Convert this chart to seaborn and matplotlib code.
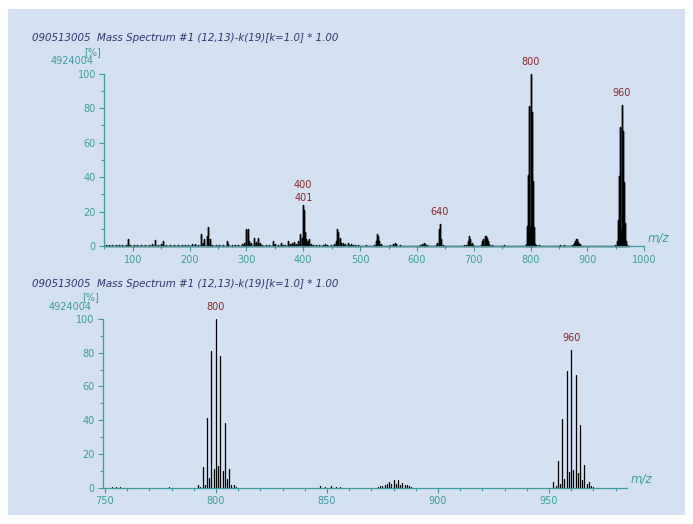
import pandas as pd
import matplotlib
matplotlib.use("Agg")
import matplotlib.pyplot as plt
import seaborn as sns
from matplotlib.patches import Rectangle
from matplotlib.ticker import MultipleLocator

# 1. Data (m/z, relative intensity in %)
title = "090513005  Mass Spectrum #1 (12,13)-k(19)[k=1.0] * 1.00"
base_peak = "4924004"

# isotope cluster around 800
c800_mz = [792, 793, 794, 795, 796, 797, 798, 799, 800, 801, 802, 803, 804, 805, 806, 807, 808, 809]
c800_pct = [1.5, 0.5, 12, 1.5, 41, 5.5, 81, 11, 100, 13, 78, 10, 38, 5, 11, 1.5, 1.5, 0.5]

# small cluster around 880
c880_mz = [873, 874, 875, 876, 877, 878, 879, 880, 881, 882, 883, 884, 885, 886, 887, 888]
c880_pct = [0.5, 0.8, 1.0, 1.6, 2.0, 3.2, 2.0, 4.5, 1.8, 4.4, 1.4, 2.6, 1.2, 1.5, 0.8, 0.4]

# isotope cluster around 960
c960_mz = [952, 953, 954, 955, 956, 957, 958, 959, 960, 961, 962, 963, 964, 965, 966, 967, 968, 969, 970]
c960_pct = [3.3, 0.8, 15.5, 2, 40.6, 5.3, 69, 9.2, 81.8, 10.6, 66.7, 8.6, 37, 4.7, 13.5, 2, 3, 1, 0.5]

# rest of the full scan
low_mz = [53, 58, 64, 70, 76, 82, 88, 92, 95, 102, 108, 115, 122, 128, 134, 140, 144, 150, 153,
          158, 166, 172, 180, 186, 192, 198, 204, 210, 214, 220, 223, 226, 230, 233, 236, 240,
          246, 252, 258, 265, 268, 274, 280, 286, 292]
low_pct = [0.6, 0.8, 0.5, 1.0, 0.7, 0.9, 0.6, 4.0, 1.0, 0.5, 0.8, 0.6, 0.5, 0.7, 1.5, 3.5, 1.0, 1.2, 3.0,
           0.8, 1.0, 0.5, 0.6, 0.9, 0.5, 0.7, 1.2, 1.5, 1.0, 7.0, 2.0, 4.0, 6.0, 11.0, 4.0, 1.0,
           1.0, 0.6, 0.8, 3.0, 1.5, 0.7, 1.0, 0.8, 1.2]

mid_mz = [296, 299, 302, 305, 308, 313, 316, 321, 324, 328, 334, 340, 346, 350, 355, 360, 364, 368,
          373, 377, 380, 384, 388, 391, 395, 397, 398, 399, 400, 401, 402, 403, 404, 406, 408, 410,
          413, 417, 422, 428, 434, 438, 442, 448, 454, 457, 460, 462, 464, 467, 470, 474, 478, 481,
          484, 488, 491, 496]
mid_pct = [2.0, 10.0, 10.0, 3.0, 2.0, 5.0, 2.5, 5.0, 2.0, 1.0, 0.8, 1.0, 3.0, 1.2, 0.8, 2.0, 1.0, 0.8,
           3.0, 1.5, 2.0, 2.5, 1.5, 3.0, 7.0, 3.0, 5.0, 4.0, 24.0, 21.0, 10.0, 8.0, 4.0, 2.0, 3.0, 4.0,
           1.5, 1.0, 0.6, 0.5, 0.8, 1.5, 1.0, 0.6, 1.5, 3.0, 10.0, 8.0, 5.0, 2.0, 2.0, 1.5, 2.0, 1.0,
           1.5, 1.0, 0.8, 0.5]

high_mz = [502, 510, 518, 525, 528, 530, 532, 534, 537, 545, 552, 558, 561, 564, 570, 580, 592, 600,
           606, 609, 612, 615, 618, 626, 633, 636, 638, 639, 640, 641, 642, 643, 645, 650, 660, 672,
           682, 686, 689, 691, 692, 694, 696, 699, 706, 712, 715, 717, 719, 721, 723, 725, 727, 732,
           742, 754, 765, 775, 785, 815, 822, 832, 840, 851, 858, 866, 895, 905, 915, 928, 940, 948, 975]
high_pct = [0.4, 0.5, 0.4, 0.8, 3.0, 7.0, 6.0, 3.0, 1.5, 0.4, 0.6, 1.5, 2.0, 1.2, 0.5, 0.3, 0.4, 0.3,
            1.0, 1.5, 2.0, 1.5, 0.6, 0.4, 0.6, 2.0, 5.0, 10.0, 13.0, 8.0, 4.0, 2.0, 1.0, 0.4, 0.3, 0.3,
            0.5, 1.0, 3.0, 5.0, 6.0, 4.0, 2.0, 0.8, 0.4, 1.0, 3.0, 4.0, 6.0, 6.0, 5.0, 3.0, 1.5, 0.5,
            0.3, 0.5, 0.3, 0.3, 0.4, 0.5, 0.3, 0.3, 0.3, 0.8, 0.5, 0.4, 0.3, 0.3, 0.3, 0.3, 0.3, 0.6, 0.4]

# trace peaks only seen in the zoomed window
trace_mz = [753, 755, 757, 779, 847, 849, 852, 854, 856]
trace_pct = [0.5, 0.4, 0.5, 0.3, 0.6, 0.5, 0.7, 0.5, 0.4]

full_labels = [400, 401, 640, 800, 960]
zoom_labels = [800, 960]

# 2. Build tables
full = pd.DataFrame({"mz": low_mz + mid_mz + high_mz + c800_mz + c880_mz + c960_mz,
                     "pct": low_pct + mid_pct + high_pct + c800_pct + c880_pct + c960_pct})
full = full.sort_values("mz").reset_index(drop=True)
zoom = pd.DataFrame({"mz": trace_mz + c800_mz + c880_mz + c960_mz,
                     "pct": trace_pct + c800_pct + c880_pct + c960_pct})
zoom = zoom[(zoom.mz >= 749) & (zoom.mz <= 985)].reset_index(drop=True)

# profile trace for the full scan: up and down at every stick, joined along the baseline
prof = pd.DataFrame({"mz": full.mz.repeat(3).values,
                     "pct": [v for p in full.pct for v in (0, p, 0)]})
# separate sticks for the zoomed window
sticks = pd.DataFrame({"mz": zoom.mz.repeat(2).values,
                       "pct": [v for p in zoom.pct for v in (0, p)],
                       "peak": zoom.index.repeat(2)})

# 3. Style
sns.set_style("ticks")
plt.rcParams["font.family"] = ["DejaVu Sans"]
bg = "#d3e1f3"
teal = "#3a9c9c"
navy = "#33336e"
red = "#8c2323"

W, H = 693, 524
fig = plt.figure(figsize=(W / 100, H / 100), dpi=100, facecolor="white")
fig.patches.append(Rectangle((8 / W, 1 - 515 / H), 677 / W, 506 / H, transform=fig.transFigure,
                             facecolor=bg, edgecolor="none", zorder=-10))

ax1 = fig.add_axes([104.3 / W, 1 - 246.3 / H, 540 / W, 172.8 / H])
ax2 = fig.add_axes([102.7 / W, 1 - 487.5 / H, 524.6 / W, 168.5 / H])

sns.lineplot(data=prof, x="mz", y="pct", sort=False, estimator=None, color="black",
             linewidth=1.0, ax=ax1)
sns.lineplot(data=sticks, x="mz", y="pct", units="peak", sort=False, estimator=None,
             color="black", linewidth=0.9, ax=ax2)

ax1.set_xlim(50, 1000)
ax2.set_xlim(749, 985.3)
ax1.xaxis.set_major_locator(MultipleLocator(100))
ax1.xaxis.set_minor_locator(MultipleLocator(50))
ax2.xaxis.set_major_locator(MultipleLocator(50))
ax2.xaxis.set_minor_locator(MultipleLocator(10))

for ax in (ax1, ax2):
    ax.set_ylim(0, 100)
    ax.yaxis.set_major_locator(MultipleLocator(20))
    ax.yaxis.set_minor_locator(MultipleLocator(10))
    ax.set_facecolor("none")
    ax.set_xlabel("")
    ax.set_ylabel("")
    for s in ("top", "right"):
        ax.spines[s].set_visible(False)
    for s in ("left", "bottom"):
        ax.spines[s].set_color(teal)
        ax.spines[s].set_linewidth(0.9)
    ax.tick_params(which="major", length=3.5, width=0.8, color=teal, labelcolor=teal,
                   labelsize=7, pad=2.5)
    ax.tick_params(which="minor", length=2, width=0.8, color=teal)
    for ln in ax.lines:
        ln.set_clip_on(False)
    ax.annotate("m/z", xy=(1, 0), xycoords="axes fraction", xytext=(2.5, 6.2),
                textcoords="offset points", ha="left", va="center", fontsize=8.5,
                style="italic", color=teal)

# peak labels
def label_peaks(ax, df, marks):
    h = dict(zip(df.mz, df.pct))
    for m in marks:
        extra = 6 if (m + 1) in marks else 0
        ax.annotate(str(m), xy=(m, h[m]), xytext=(0, 8.6 + extra), textcoords="offset points",
                    ha="center", va="center", fontsize=7, color=red, annotation_clip=False)

label_peaks(ax1, full, full_labels)
label_peaks(ax2, zoom, zoom_labels)

# headers
for ty, sy, left in ((38.3, 52.0, 104.3), (284.0, 297.0, 102.7)):
    fig.text(32 / W, 1 - ty / H, title, ha="left", va="center", fontsize=7.4,
             style="italic", color=navy)
    fig.text((left - 12) / W, 1 - sy / H, "[%]", ha="center", va="center", fontsize=7, color=teal)
    fig.text((left - 11) / W, 1 - (sy + 9.5) / H, base_peak, ha="right", va="center",
             fontsize=7, color=teal)

fig.savefig("out.png", dpi=100, facecolor=fig.get_facecolor())
